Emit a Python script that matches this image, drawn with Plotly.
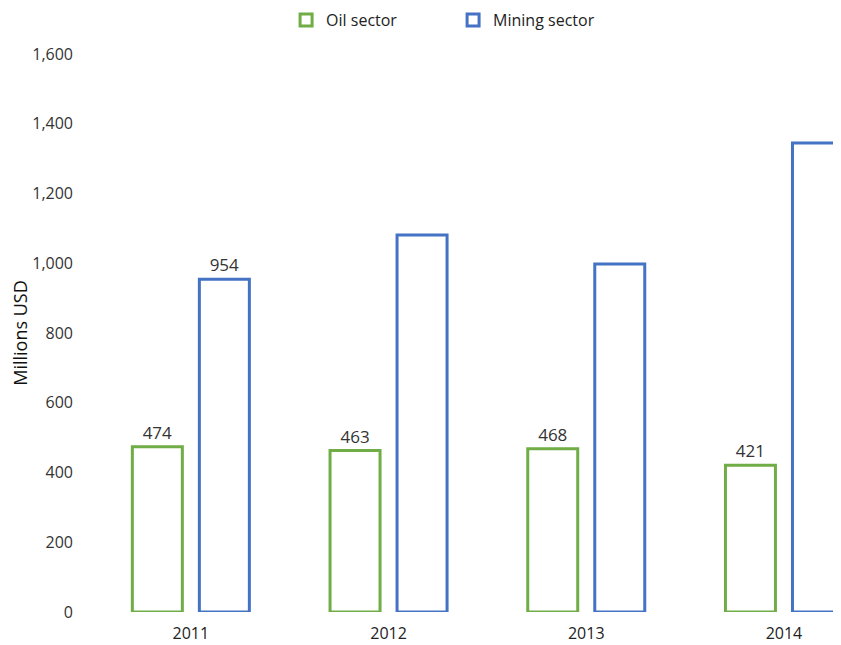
import plotly.graph_objects as go

years = ["2011", "2012", "2013", "2014"]
oil = [474, 463, 468, 421]
mining = [954, 1081, 998, 1345]
oil_labels = ["474", "463", "468", "421"]
mining_labels = ["954", "", "", ""]
y_ticks = [0, 200, 400, 600, 800, 1000, 1200, 1400, 1600]

GREEN = "#70AD47"
BLUE = "#4472C4"
FONT = "Open Sans"

fig = go.Figure()
fig.add_trace(go.Bar(
    x=years, y=oil, name="Oil sector",
    marker=dict(color="white", line=dict(color=GREEN, width=3)),
    text=oil_labels, textposition="outside", cliponaxis=False,
    textfont=dict(size=17, color="#333333", family=FONT),
))
fig.add_trace(go.Bar(
    x=years, y=mining, name="Mining sector",
    marker=dict(color="white", line=dict(color=BLUE, width=3)),
    text=mining_labels, textposition="outside", cliponaxis=False,
    textfont=dict(size=17, color="#333333", family=FONT),
))

fig.update_layout(
    width=841, height=645,
    margin=dict(l=84, r=0, t=46, b=41, autoexpand=False),
    paper_bgcolor="white", plot_bgcolor="white",
    barmode="group", bargap=0.322, bargroupgap=0.254,
    font=dict(family=FONT, size=14, color="#333333"),
    showlegend=True,
    legend=dict(orientation="h", x=0.477, xanchor="center",
                yref="container", y=0.9814, yanchor="middle",
                font=dict(size=16, color="#222222"), itemwidth=30,
                entrywidth=122, traceorder="normal"),
)
fig.update_xaxes(type="category", range=[-0.5, 3.329], showgrid=False, showline=False,
                 ticks="", automargin=False, ticklabelstandoff=10,
                 tickfont=dict(size=16, color="#222222"))
fig.update_yaxes(range=[0, 1600], tickvals=y_ticks, tickformat=",", showgrid=False,
                 showline=False, zeroline=False, ticks="", ticklabelstandoff=18,
                 automargin=False,
                 tickfont=dict(size=16, color="#333333"),
                 title=dict(text="Millions USD", font=dict(size=18, color="#111111"), standoff=12))

fig.write_html("out.html")
